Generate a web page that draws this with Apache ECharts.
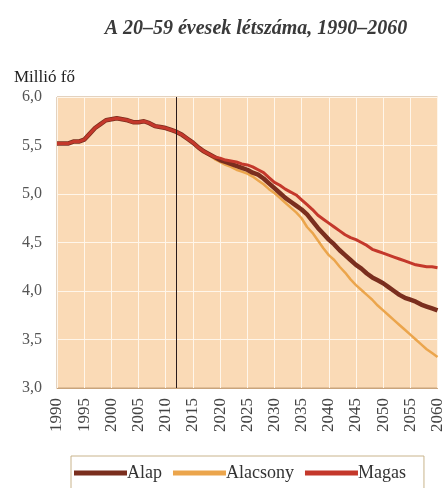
<!DOCTYPE html>
<html>
<head>
<meta charset="utf-8">
<script src="https://cdn.jsdelivr.net/npm/echarts@6/dist/echarts.min.js"></script>
<style>
  html, body { margin: 0; padding: 0; background: #fff; }
  #chart { width: 446px; height: 488px; }
</style>
</head>
<body>
<div id="chart"></div>
<script>
// years 1990..2060, one value per year (millió fő)
const years = []
for (let y = 1990; y <= 2060; y++) years.push(y)

// common history 1990-2016
const history = [5.52, 5.52, 5.52, 5.54, 5.54, 5.56, 5.62, 5.68, 5.72, 5.76,
  5.77, 5.78, 5.77, 5.76, 5.74, 5.74, 5.75, 5.73, 5.70, 5.69,
  5.68, 5.66, 5.64, 5.61, 5.57, 5.53, 5.48]

// projections 2017-2060
const alap = [5.44, 5.41, 5.38, 5.35, 5.33, 5.31, 5.29, 5.27, 5.25, 5.22,
  5.20, 5.16, 5.11, 5.06, 5.01, 4.96, 4.92, 4.88, 4.84, 4.79,
  4.72, 4.65, 4.59, 4.53, 4.48, 4.42, 4.37, 4.32, 4.27, 4.23,
  4.18, 4.14, 4.11, 4.08, 4.04, 4.00, 3.96, 3.93, 3.91, 3.89,
  3.86, 3.84, 3.82, 3.80]
const alacsony = [5.43, 5.40, 5.36, 5.33, 5.30, 5.28, 5.25, 5.23, 5.21, 5.18,
  5.14, 5.10, 5.05, 5.01, 4.96, 4.91, 4.86, 4.81, 4.75, 4.66,
  4.60, 4.52, 4.44, 4.37, 4.32, 4.25, 4.19, 4.12, 4.06, 4.01,
  3.96, 3.91, 3.85, 3.80, 3.75, 3.70, 3.65, 3.60, 3.55, 3.50,
  3.45, 3.40, 3.36, 3.32]
const magas = [5.44, 5.41, 5.38, 5.37, 5.35, 5.34, 5.33, 5.31, 5.30, 5.28,
  5.25, 5.22, 5.17, 5.12, 5.09, 5.05, 5.02, 4.99, 4.94, 4.89,
  4.84, 4.78, 4.74, 4.70, 4.66, 4.62, 4.58, 4.55, 4.53, 4.50,
  4.47, 4.43, 4.41, 4.39, 4.37, 4.35, 4.33, 4.31, 4.29, 4.27,
  4.26, 4.25, 4.25, 4.24]

const seriesNames = ['Alap', 'Alacsony', 'Magas']
const markYear = 2012

const serif = '"Liberation Serif", "DejaVu Serif", serif'

function toPairs(proj) {
  return history.concat(proj).map((v, i) => [years[i], v])
}

const chart = echarts.init(document.getElementById('chart'))

chart.setOption({
  animation: false,
  title: [{
    text: 'A 20–59 évesek létszáma, 1990–2060',
    left: 251,
    top: 14,
    textAlign: 'center',
    textStyle: {
      fontFamily: serif,
      fontStyle: 'italic',
      fontWeight: 'bold',
      fontSize: 20,
      color: '#3a3a3a',
    },
  }, {
    text: 'Millió fő',
    left: 9,
    top: 64,
    textStyle: {
      fontFamily: serif,
      fontWeight: 'normal',
      fontSize: 17,
      color: '#222',
    },
  }],
  grid: {
    show: true,
    left: 57,
    right: 7,
    top: 97,
    bottom: 100,
    backgroundColor: '#fadab6',
    borderColor: '#c9a47c',
    borderWidth: 1,
  },
  legend: {
    data: seriesNames,
    left: 71,
    top: 456,
    padding: [8, 18, 14, 3],
    itemGap: 11,
    itemWidth: 53,
    itemHeight: 5,
    icon: 'rect',
    borderColor: '#c9b48c',
    borderWidth: 1,
    textStyle: {
      fontFamily: serif,
      fontSize: 18,
      color: '#333',
      padding: [0, 0, 0, -5],
    },
  },
  xAxis: {
    type: 'value',
    min: 1990,
    max: 2060,
    interval: 5,
    axisLine: { show: true, lineStyle: { color: '#c9a47c' } },
    axisTick: { show: false },
    splitLine: { show: true, lineStyle: { color: '#fff6ea', width: 1 } },
    axisLabel: {
      rotate: 90,
      margin: 10,
      fontFamily: serif,
      fontSize: 17,
      color: '#444',
      formatter: (v) => String(v),
    },
  },
  yAxis: {
    type: 'value',
    min: 3,
    max: 6,
    interval: 0.5,
    axisLine: { show: false },
    axisTick: { show: false },
    splitLine: { show: true, lineStyle: { color: '#fff6ea', width: 1 } },
    axisLabel: {
      margin: 15,
      fontFamily: serif,
      fontSize: 16,
      color: '#555',
      formatter: (v) => v.toFixed(1).replace('.', ','),
    },
  },
  series: [{
    name: 'Alacsony',
    type: 'line',
    data: toPairs(alacsony),
    showSymbol: false,
    z: 2,
    lineStyle: { color: '#eba54c', width: 2.5 },
    itemStyle: { color: '#eba54c' },
  }, {
    name: 'Alap',
    type: 'line',
    data: toPairs(alap),
    showSymbol: false,
    z: 3,
    lineStyle: { color: '#7a2e1e', width: 4.5 },
    itemStyle: { color: '#7a2e1e' },
    markLine: {
      silent: true,
      symbol: 'none',
      label: { show: false },
      lineStyle: { color: '#2a1a1a', width: 1, type: 'solid' },
      data: [[{ coord: [markYear, 6] }, { coord: [markYear, 3] }]],
    },
  }, {
    name: 'Magas',
    type: 'line',
    data: toPairs(magas),
    showSymbol: false,
    z: 4,
    lineStyle: { color: '#c4382b', width: 3 },
    itemStyle: { color: '#c4382b' },
  }],
})
</script>
</body>
</html>
